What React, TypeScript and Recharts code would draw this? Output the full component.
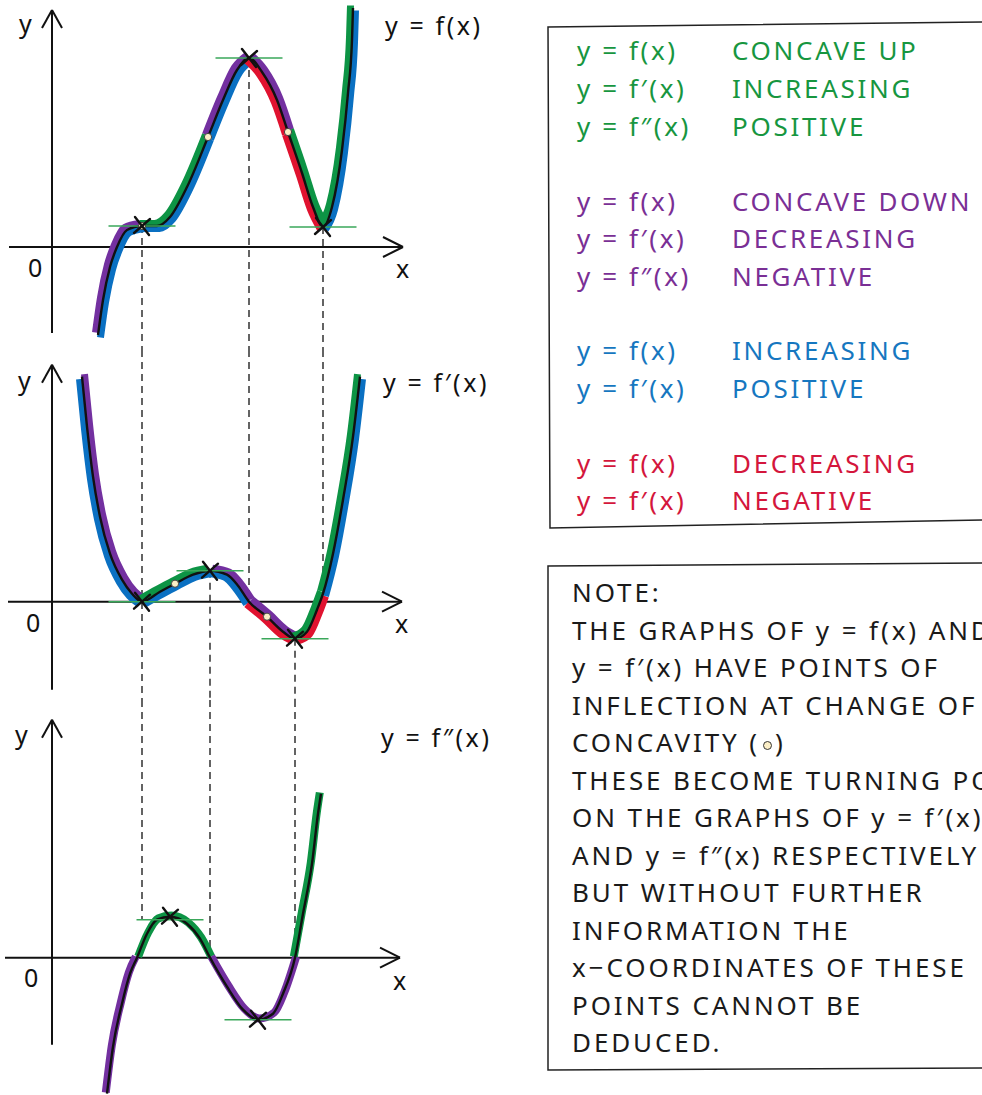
import React from 'react';
import { ComposedChart, Line, Scatter, XAxis, YAxis, ReferenceLine } from 'recharts';

// colours
const GREEN = '#0d9445';
const PURPLE = '#7330a0';
const BLUE = '#0a70c2';
const RED = '#e0122f';
const TANGENT = '#3aa75a';

const X_DOMAIN: [number, number] = [-5.2, 44.8];

// y = f(x)
const fX = [4.6, 5.1, 5.8, 6.5, 7.5, 9.0, 10.5, 11.8, 13.5, 15.6, 17.1, 18.5, 19.7, 21.0, 22.5, 23.6, 25.0, 26.1, 27.1, 28.0, 29.0, 29.6, 30.0, 30.1];
const fY = [-8.8, -5.3, -2.0, 0, 1.7, 2.1, 2.1, 3.0, 6.0, 11.0, 14.7, 17.7, 18.9, 17.5, 14.7, 11.5, 7.4, 4.0, 2.0, 4.0, 9.7, 15.4, 20.7, 23.9];
const fBreaks = [9.0, 15.6, 19.7, 23.6, 27.1];
const fUpper = [PURPLE, GREEN, PURPLE, PURPLE, GREEN, GREEN];
const fLower = [BLUE, BLUE, BLUE, RED, RED, BLUE];
const fTurnX = [9.0, 19.7, 27.1];
const fTurnY = [2.1, 18.9, 2.0];
const fInflX = [9.0, 15.6, 23.6];
const fInflY = [2.1, 11.0, 11.5];

// y = f'(x)
const dfX = [3.0, 3.5, 4.1, 4.8, 5.8, 7.0, 8.0, 9.0, 10.8, 12.3, 14.1, 15.8, 17.5, 18.6, 19.7, 21.5, 23.1, 24.3, 25.5, 26.5, 27.1, 28.1, 29.1, 30.1, 30.8];
const dfY = [22.5, 17.5, 12.5, 8.5, 4.8, 2.2, 0.8, 0, 1.0, 1.8, 2.7, 3.1, 2.7, 1.6, 0, -1.5, -3.0, -3.7, -3.0, -0.8, 0.8, 4.8, 10.2, 16.5, 22.5];
const dfBreaks = [9.0, 15.8, 19.7, 24.3, 27.1];
const dfUpper = [PURPLE, GREEN, PURPLE, PURPLE, GREEN, GREEN];
const dfLower = [BLUE, BLUE, BLUE, RED, RED, BLUE];
const dfTurnX = [9.0, 15.8, 24.3];
const dfTurnY = [0, 3.1, -3.7];
const dfInflX = [12.3, 21.5];
const dfInflY = [1.8, -1.5];

// y = f''(x)
const d2X = [5.5, 6.1, 7.0, 7.8, 8.5, 9.5, 10.5, 11.8, 13.5, 14.8, 15.8, 17.5, 19.1, 20.6, 22.1, 23.1, 24.3, 25.1, 26.0, 26.6, 26.9];
const d2Y = [-13.6, -8.9, -4.6, -1.6, 0, 2.4, 3.8, 4.1, 3.4, 1.9, 0, -2.9, -5.2, -6.2, -5.6, -3.6, 0, 4.4, 9.4, 14.4, 16.4];
const d2Breaks = [8.5, 15.8, 24.3];
const d2Colors = [PURPLE, GREEN, PURPLE, GREEN];
const d2TurnX = [11.8, 20.6];
const d2TurnY = [4.1, -6.2];

// legend
const legendLabels = ['y = f(x)', 'y = f′(x)', 'y = f″(x)', 'y = f(x)', 'y = f′(x)', 'y = f″(x)', 'y = f(x)', 'y = f′(x)', 'y = f(x)', 'y = f′(x)'];
const legendTexts = ['CONCAVE UP', 'INCREASING', 'POSITIVE', 'CONCAVE DOWN', 'DECREASING', 'NEGATIVE', 'INCREASING', 'POSITIVE', 'DECREASING', 'NEGATIVE'];
const legendColors = ['#17963f', '#17963f', '#17963f', '#7a2f95', '#7a2f95', '#7a2f95', '#1677c0', '#1677c0', '#d4163c', '#d4163c'];
const legendRowY = [50, 88, 126, 201, 238, 276, 350, 388, 463, 500];

const noteLines = [
  'NOTE:',
  'THE GRAPHS OF y = f(x) AND',
  'y = f′(x) HAVE POINTS OF',
  'INFLECTION AT CHANGE OF',
  'CONCAVITY (o)',
  'THESE BECOME TURNING POINTS',
  'ON THE GRAPHS OF y = f′(x)',
  'AND y = f″(x) RESPECTIVELY',
  'BUT WITHOUT FURTHER',
  'INFORMATION THE',
  'x−COORDINATES OF THESE',
  'POINTS CANNOT BE',
  'DEDUCED.',
];

type Pt = { x: number; y: number };
const pts = (xs: number[], ys: number[]): Pt[] => xs.map((x, i) => ({ x, y: ys[i] }));

const split = (data: Pt[], breaks: number[]) => {
  const edges = [-Infinity, ...breaks, Infinity];
  return edges.slice(0, -1).map((lo, i) => data.filter((p) => p.x >= lo && p.x <= edges[i + 1]));
};

const Cross = (props: any) => {
  const { cx, cy } = props;
  const s = 8;
  return (
    <g stroke="#111" strokeWidth={2.4} strokeLinecap="round">
      <line x1={cx - s + 1} y1={cy - s - 1} x2={cx + s - 1} y2={cy + s + 1} />
      <line x1={cx - s} y1={cy + s - 1} x2={cx + s} y2={cy - s + 1} />
    </g>
  );
};

const Dot = (props: any) => (
  <circle cx={props.cx} cy={props.cy} r={3.6} fill="#fbeec6" stroke="#444" strokeWidth={1} />
);

interface GraphProps {
  top: number;
  height: number;
  yDomain: [number, number];
  curve: Pt[];
  segments: Pt[][];
  upper: string[];
  lower?: string[];
  turns: Pt[];
  infl: Pt[];
  guides: { x: number; y1: number; y2: number }[];
  xAxisEnds: [number, number];
  yAxisEnds: [number, number];
  tangentY?: number[];
}

function Graph(p: GraphProps) {
  const [xa, xb] = p.xAxisEnds;
  const [ya, yb] = p.yAxisEnds;
  const axis = { stroke: '#111', strokeWidth: 2, ifOverflow: 'visible' as const };
  return (
    <div style={{ position: 'absolute', left: 0, top: p.top }}>
      <ComposedChart width={500} height={p.height} margin={{ top: 0, right: 0, bottom: 0, left: 0 }}>
        <XAxis hide type="number" dataKey="x" domain={X_DOMAIN} allowDataOverflow />
        <YAxis hide type="number" dataKey="y" domain={p.yDomain} allowDataOverflow />
        {/* axes */}
        <ReferenceLine segment={[{ x: xa, y: 0 }, { x: xb, y: 0 }]} {...axis} />
        <ReferenceLine segment={[{ x: xb - 2, y: 1 }, { x: xb, y: 0 }]} {...axis} />
        <ReferenceLine segment={[{ x: xb - 2, y: -1 }, { x: xb, y: 0 }]} {...axis} />
        <ReferenceLine segment={[{ x: 0, y: ya }, { x: 0, y: yb }]} {...axis} />
        <ReferenceLine segment={[{ x: -1, y: yb - 1.8 }, { x: 0, y: yb }]} {...axis} />
        <ReferenceLine segment={[{ x: 1, y: yb - 1.8 }, { x: 0, y: yb }]} {...axis} />
        {/* dashed guides */}
        {p.guides.map((g, i) => (
          <ReferenceLine
            key={`g${i}`}
            segment={[{ x: g.x, y: g.y1 }, { x: g.x, y: g.y2 }]}
            stroke="#222"
            strokeWidth={1.4}
            strokeDasharray="7 5"
            ifOverflow="visible"
          />
        ))}
        {/* coloured bands */}
        {p.lower &&
          p.segments.map((seg, i) => {
            const rising = seg[seg.length - 1].y > seg[0].y;
            return (
              <Line
                key={`lo${i}`}
                data={seg}
                dataKey="y"
                type="monotoneX"
                stroke={p.lower![i]}
                strokeWidth={7}
                dot={false}
                activeDot={false}
                className={rising ? 'lo-r' : 'lo-f'}
                isAnimationActive={false}
              />
            );
          })}
        {p.segments.map((seg, i) => {
          const rising = seg[seg.length - 1].y > seg[0].y;
          const cls = p.lower ? (rising ? 'up-r' : 'up-f') : rising ? 'one-r' : 'one-f';
          return (
            <Line
              key={`up${i}`}
              data={seg}
              dataKey="y"
              type="monotoneX"
              stroke={p.upper[i]}
              strokeWidth={p.lower ? 7 : 8}
              dot={false}
              activeDot={false}
              className={cls}
              isAnimationActive={false}
            />
          );
        })}
        <Line
          data={p.curve}
          dataKey="y"
          type="monotoneX"
          stroke="#111"
          strokeWidth={2.4}
          dot={false}
          activeDot={false}
          isAnimationActive={false}
        />
        {/* horizontal tangents */}
        {p.turns.map((t, i) => (
          <ReferenceLine
            key={`t${i}`}
            segment={[{ x: t.x - 3.35, y: p.tangentY ? p.tangentY[i] : t.y }, { x: t.x + 3.35, y: p.tangentY ? p.tangentY[i] : t.y }]}
            stroke={TANGENT}
            strokeWidth={1.6}
            ifOverflow="visible"
          />
        ))}
        <Scatter data={p.infl} dataKey="y" shape={Dot} isAnimationActive={false} />
        <Scatter data={p.turns} dataKey="y" shape={Cross} isAnimationActive={false} />
      </ComposedChart>
    </div>
  );
}

const FONT = "'Noto Sans', 'DejaVu Sans', sans-serif";

const Label = ({ x, y, text, size = 25, color = '#111', spacing = 2.6 }: any) => (
  <div
    style={{
      position: 'absolute',
      left: x,
      top: y - 20,
      height: 40,
      lineHeight: '40px',
      fontFamily: FONT,
      fontSize: size,
      color,
      letterSpacing: spacing,
      whiteSpace: 'nowrap',
    }}
  >
    {text}
  </div>
);

export default function App() {
  const f = pts(fX, fY);
  const df = pts(dfX, dfY);
  const d2 = pts(d2X, d2Y);

  return (
    <div
      style={{
        position: 'absolute',
        left: 0,
        top: 0,
        width: 982,
        height: 1095,
        overflow: 'hidden',
        background: '#fff',
      }}
    >
      <style>{`
        .up-r { transform: translate(-2.5px, -2.5px); }
        .lo-r { transform: translate(2.5px, 2.5px); }
        .up-f { transform: translate(2.5px, -2.5px); }
        .lo-f { transform: translate(-2.5px, 2.5px); }
        .one-r { transform: translate(-1.2px, -1.2px); }
        .one-f { transform: translate(1.2px, -1.2px); }
      `}</style>

      <Graph
        top={0}
        height={350}
        yDomain={[-10.3, 24.7]}
        curve={f}
        segments={split(f, fBreaks)}
        upper={fUpper}
        lower={fLower}
        turns={pts(fTurnX, fTurnY)}
        infl={pts(fInflX, fInflY)}
        guides={fTurnX.map((x, i) => ({ x, y1: fTurnY[i], y2: -10.3 }))}
        xAxisEnds={[-4.3, 35.1]}
        yAxisEnds={[-8.6, 23.7]}
      />
      <Graph
        top={350}
        height={350}
        yDomain={[-9.83, 25.17]}
        curve={df}
        segments={split(df, dfBreaks)}
        upper={dfUpper}
        lower={dfLower}
        turns={pts(dfTurnX, dfTurnY)}
        infl={pts(dfInflX, dfInflY)}
        guides={[
          { x: fTurnX[0], y1: 25.17, y2: -9.83 },
          { x: fTurnX[1], y1: 25.17, y2: 0 },
          { x: fTurnX[2], y1: 25.17, y2: 0.8 },
          { x: dfTurnX[1], y1: dfTurnY[1], y2: -9.83 },
          { x: dfTurnX[2], y1: dfTurnY[2], y2: -9.83 },
        ]}
        xAxisEnds={[-4.4, 35.0]}
        yAxisEnds={[-8.8, 23.7]}
      />
      <Graph
        top={700}
        height={395}
        yDomain={[-13.73, 25.77]}
        curve={d2}
        segments={split(d2, d2Breaks)}
        upper={d2Colors}
        turns={pts(d2TurnX, d2TurnY)}
        infl={[]}
        tangentY={[3.8, -6.2]}
        guides={[
          { x: dfTurnX[0], y1: 25.77, y2: 3.8 },
          { x: dfTurnX[1], y1: 25.77, y2: 0 },
          { x: dfTurnX[2], y1: 25.77, y2: 0 },
        ]}
        xAxisEnds={[-4.7, 34.8]}
        yAxisEnds={[-8.7, 23.8]}
      />

      {/* axis labels */}
      <Label x={19} y={23} text="y" spacing={0} />
      <Label x={28} y={267} text="0" spacing={0} />
      <Label x={396} y={268} text="x" spacing={0} />
      <Label x={385} y={25} text="y = f(x)" />
      <Label x={18} y={380} text="y" spacing={0} />
      <Label x={26} y={622} text="0" spacing={0} />
      <Label x={395} y={623} text="x" spacing={0} />
      <Label x={383} y={382} text="y = f′(x)" />
      <Label x={15} y={734} text="y" spacing={0} />
      <Label x={24} y={977} text="0" spacing={0} />
      <Label x={393} y={980} text="x" spacing={0} />
      <Label x={381} y={737} text="y = f″(x)" />

      {/* boxes */}
      <svg width={982} height={1095} style={{ position: 'absolute', left: 0, top: 0, pointerEvents: 'none' }}>
        <path d="M982,22 L548,27 L550,528 L982,520" fill="none" stroke="#222" strokeWidth={1.5} />
        <path d="M982,563 L548,566 L548,1070 L982,1068" fill="none" stroke="#222" strokeWidth={1.5} />
      </svg>

      {legendTexts.map((t, i) => (
        <React.Fragment key={i}>
          <Label x={577} y={legendRowY[i]} text={legendLabels[i]} color={legendColors[i]} size={26} spacing={2.6} />
          <Label x={732} y={legendRowY[i]} text={t} color={legendColors[i]} size={26} spacing={2.7} />
        </React.Fragment>
      ))}

      {noteLines.map((t, i) => (
        <Label
          key={i}
          x={572}
          y={592 + i * 37.5}
          size={26}
          spacing={2.9}
          color="#1a1a1a"
          text={
            t === 'CONCAVITY (o)' ? (
              <span>
                CONCAVITY (
                <span
                  style={{
                    display: 'inline-block',
                    width: 7,
                    height: 7,
                    borderRadius: '50%',
                    border: '1.5px solid #333',
                    background: '#fbeec6',
                    verticalAlign: 'middle',
                    margin: '0 3px',
                  }}
                />
                )
              </span>
            ) : (
              t
            )
          }
        />
      ))}
    </div>
  );
}
